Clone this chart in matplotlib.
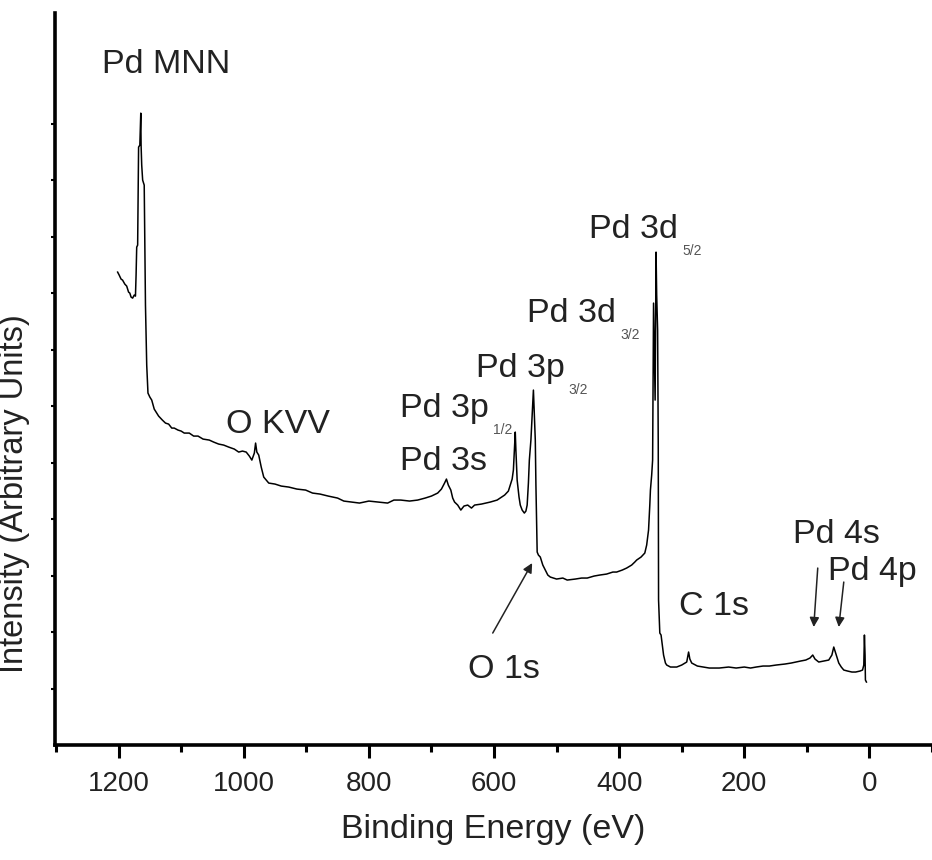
import numpy as np
import matplotlib
matplotlib.use("Agg")
from matplotlib import pyplot as plt

plt.rcParams['font.family'] = ['Liberation Sans', 'DejaVu Sans']

# XPS survey spectrum (binding energy in eV, intensity in arbitrary units)
binding_energy = [
    1201.5, 1199, 1196, 1193.6, 1190, 1187, 1184, 1182, 1180, 1177.5, 1175, 1173, 1172, 1171,
    1169.5, 1168.5, 1168, 1166, 1164.5, 1164, 1163, 1162, 1161.5, 1160, 1159, 1158, 1157, 1155,
    1153, 1150, 1147, 1143, 1140, 1136, 1130, 1125, 1120, 1115, 1111, 1105, 1100, 1095, 1087,
    1080, 1073, 1065, 1055, 1048, 1040, 1032, 1024, 1015, 1008, 1002, 996, 991, 987, 983, 981,
    979, 976, 972, 968, 964, 960, 950, 940, 928, 915, 901, 890, 878, 865, 850, 840, 828, 815,
    800, 785, 770, 760, 749, 735, 722, 710, 700, 690, 684, 679, 676, 673, 669, 666, 663, 658,
    653, 648, 642, 636, 631, 620, 606, 595, 583, 577, 574, 571, 569, 567, 566, 565, 563, 560,
    558, 555, 551.5, 549, 547, 545, 543.5, 541, 539, 537, 535, 534, 533, 531, 529, 526, 522,
    518, 514, 510, 500, 490, 483, 470, 460, 451, 440, 431, 420, 410, 404, 395, 388, 380, 375,
    372, 365, 359, 356, 353, 351, 350, 348, 346.5, 345, 343.5, 342.5, 341, 340, 338.5, 337.5,
    337, 335, 333, 332, 330, 329, 326, 324, 318, 308, 300, 292, 289, 287, 284, 275, 265, 256,
    240, 225, 213, 200, 190, 181, 170, 160, 149, 135, 125, 117.6, 110, 101.7, 95, 90.6, 87, 81,
    73, 65, 60, 57, 54, 49, 45, 41, 35, 28, 22, 15, 11, 9, 8, 7, 6.4, 4.8,
]
intensity = [
    473, 470, 466, 465, 461, 459, 453, 452, 448, 447, 450, 449, 470, 498,
    500, 560, 598, 600, 632, 600, 580, 570, 565, 562, 560, 500, 440, 380,
    352, 348, 345, 336, 333, 329, 325, 322, 321, 317, 317, 315, 314, 312, 312,
    309, 309, 306, 305, 303, 301, 300, 298, 296, 293, 294, 293, 289, 285, 292, 302,
    293, 290, 278, 268, 265, 262, 261, 259, 258, 256, 255, 252, 251, 249, 247, 244, 243, 242,
    244, 243, 242, 245, 245, 244, 245, 247, 249, 252, 256, 262, 266, 260, 255, 247, 243, 240,
    235, 239, 240, 237, 240, 241, 243, 245, 250, 254, 260, 266, 275, 300, 313, 295, 265, 248,
    240, 235, 232, 234, 240, 262, 285, 305, 330, 355, 320, 305, 260, 193, 190, 188, 180,
    175, 170, 168, 166, 167, 165, 166, 167, 167, 169, 170, 171, 173, 173, 175, 177, 180, 183,
    185, 188, 192, 200, 215, 240, 255, 270, 285, 442, 380, 345, 493, 450, 415, 300,
    145, 112, 110, 105, 95, 90, 82, 80, 78, 78, 80, 83, 93, 86, 82, 79, 78, 77,
    77, 78, 77, 78, 77, 78, 79, 79, 80, 81, 82, 83, 84, 85, 87, 90, 86, 83,
    84, 85, 90, 98, 92, 82, 78, 75, 74, 73, 73, 74, 75, 80, 110, 90, 65, 63,
]

# peak labels: (text, subscript, x, y) -- x, y = left end of baseline
peak_labels = [
    ("Pd MNN", "", 1227, 672),
    ("O KVV", "", 1028, 312),
    ("Pd 3p", "1/2", 750, 328),
    ("Pd 3s", "", 750, 275),
    ("Pd 3p", "3/2", 629, 368),
    ("Pd 3d", "3/2", 547, 423),
    ("Pd 3d", "5/2", 448, 507),
    ("Pd 4s", "", 122, 202),
    ("Pd 4p", "", 67, 165),
    ("C 1s", "", 305, 130),
    ("O 1s", "", 642, 67),
]

# arrows: (tail_x, tail_y, head_x, head_y)
arrows = [
    (602, 112, 539, 182),
    (82.6, 177, 89, 118),
    (41, 163, 49, 118),
]

fig = plt.figure(figsize=(9.32, 8.6), dpi=100)
ax = fig.add_axes([0.059, 0.1337, 0.941, 0.851])

ax.plot(binding_energy, intensity, color='black', lw=1.1)

ax.set_xlim(1301.6, -92.2)
ax.set_ylim(0, 732)

ax.spines['top'].set_visible(False)
ax.spines['right'].set_visible(False)
ax.spines['left'].set_linewidth(2.6)
ax.spines['bottom'].set_linewidth(2.6)

ax.set_xticks(np.arange(0, 1201, 200))
ax.set_xticks(np.arange(-100, 1301, 100), minor=True)
ax.set_yticks(np.arange(1, 12) * 56.5)
ax.set_yticklabels([])
ax.tick_params(axis='x', which='major', length=9, width=2.2, labelsize=20, pad=10, labelcolor='#222222')
ax.tick_params(axis='x', which='minor', length=5, width=2.2)
ax.tick_params(axis='y', which='major', length=3, width=1.5)

ax.set_xlabel("Binding Energy (eV)", fontsize=24.5, color='#222222', labelpad=12)
ax.set_ylabel("Intensity (Arbitrary Units)", fontsize=23.5, color='#222222')
ax.yaxis.set_label_coords(-0.028, 0.344)

for text, sub, x, y in peak_labels:
    t = ax.text(x, y, text, fontsize=24.5, color='#222222', ha='left', va='baseline')
    if sub:
        # subscript sits just right of the label, below its baseline
        ax.annotate(sub, xy=(1, 0), xycoords=t, xytext=(3, -7), textcoords='offset points',
                    fontsize=10, color='#555555', ha='left', va='baseline')

for tx, ty, hx, hy in arrows:
    ax.annotate("", xy=(hx, hy), xytext=(tx, ty),
                arrowprops=dict(arrowstyle='-|>', color='#222222', lw=1.1,
                                mutation_scale=14, shrinkA=0, shrinkB=0))

plt.savefig("out.png", dpi=100)
